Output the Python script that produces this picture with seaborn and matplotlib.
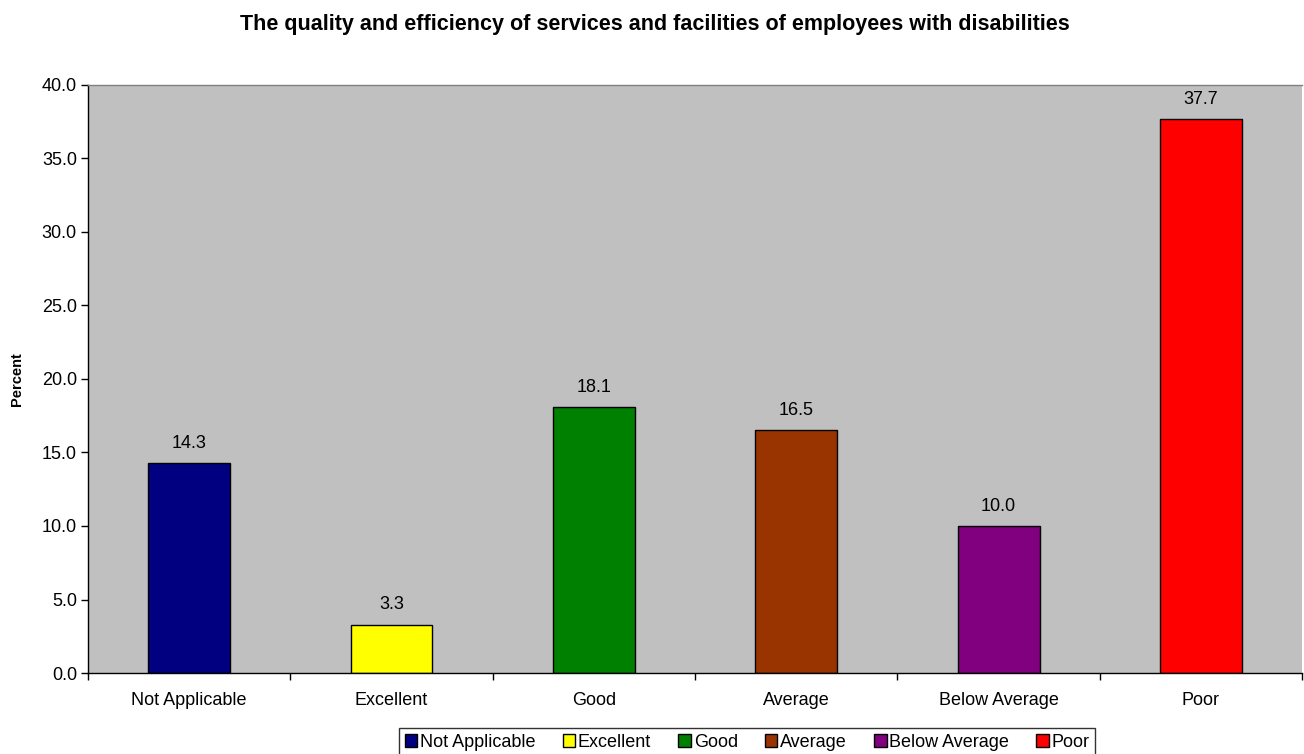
import matplotlib
matplotlib.use("Agg")
import matplotlib.pyplot as plt
import seaborn as sns
import pandas as pd
from matplotlib.patches import Patch

categories = ["Not Applicable", "Excellent", "Good", "Average", "Below Average", "Poor"]
percent = [14.3, 3.3, 18.1, 16.5, 10.0, 37.7]
colors = ["#000080", "#FFFF00", "#008000", "#993300", "#800080", "#FF0000"]
yticks = [0, 5, 10, 15, 20, 25, 30, 35, 40]

sns.set_style("white")
plt.rcParams["font.family"] = ["Liberation Sans", "DejaVu Sans"]
plt.rcParams["text.color"] = "black"
plt.rcParams["xtick.color"] = "black"
plt.rcParams["ytick.color"] = "black"
plt.rcParams["axes.labelcolor"] = "black"

df = pd.DataFrame({"Rating": categories, "Percent": percent})

fig = plt.figure(figsize=(13.04, 7.54), dpi=100)
ax = fig.add_axes([0.0675, 0.1074, 0.931, 0.780])
ax.set_facecolor("#C0C0C0")

sns.barplot(data=df, x="Rating", y="Percent", hue="Rating", palette=colors,
            dodge=False, width=0.405, edgecolor="black", linewidth=1,
            legend=False, ax=ax, saturation=1)

for cont in ax.containers:
    ax.bar_label(cont, fmt="%.1f", padding=8, fontsize=13)

ax.set_ylim(0, 40)
ax.set_xlim(-0.5, len(categories) - 0.5)
ax.set_yticks(yticks)
ax.set_yticklabels([f"{v:.1f}" for v in yticks], fontsize=13)
ax.set_xticks(range(len(categories)))
ax.set_xticklabels(categories, fontsize=13)
ax.tick_params(axis="x", length=0, pad=14)
ax.tick_params(axis="y", length=5, width=1, direction="out", left=True, pad=3)
# category separators on the x axis
ax.set_xticks([i - 0.5 for i in range(len(categories) + 1)], minor=True)
ax.tick_params(axis="x", which="minor", length=5, width=1, direction="out", bottom=True)

ax.set_xlabel("")
ax.set_ylabel("Percent", fontsize=10.5, fontweight="bold", labelpad=13)

for side in ["left", "bottom"]:
    ax.spines[side].set_color("black")
    ax.spines[side].set_linewidth(1)
ax.spines["top"].set_color("#808080")
ax.spines["top"].set_linewidth(1)
ax.spines["right"].set_visible(False)

fig.suptitle("The quality and efficiency of services and facilities of employees with disabilities",
             fontsize=15.5, fontweight="bold", x=0.502, y=0.982)

handles = [Patch(facecolor=c, edgecolor="black", linewidth=1) for c in colors]
leg = fig.legend(handles, categories, loc="lower center", bbox_to_anchor=(0.573, -0.003),
                 ncol=6, fontsize=13, frameon=True, fancybox=False,
                 handlelength=0.7, handleheight=0.7, handletextpad=0.15, columnspacing=1.5,
                 borderpad=0.3, borderaxespad=0)
leg.get_frame().set_edgecolor("black")
leg.get_frame().set_linewidth(1)

fig.savefig("out.png", dpi=100)
